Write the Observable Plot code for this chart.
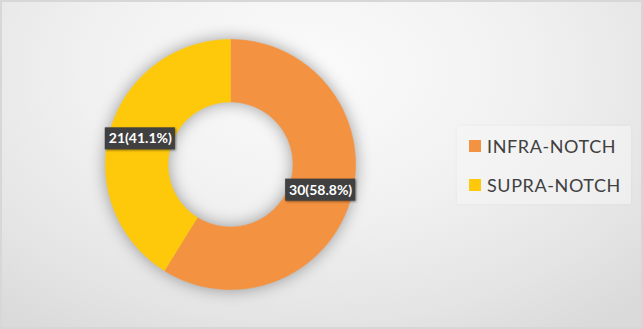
<!DOCTYPE html>
<html>
<head>
<meta charset="utf-8">
<script src="https://cdn.jsdelivr.net/npm/d3@7"></script>
<script src="https://cdn.jsdelivr.net/npm/@observablehq/plot@0.6"></script>
<style>
  html, body { margin: 0; padding: 0; }
  body { width: 643px; height: 329px; overflow: hidden; font-family: Lato, "Open Sans", sans-serif; }
  #frame {
    position: relative; width: 643px; height: 329px; box-sizing: border-box;
    background: radial-gradient(ellipse 75% 95% at 48% 22%, #fbfbfb 0%, #f1f1f1 45%, #e4e4e4 80%, #dadada 100%);
    box-shadow: inset 0 0 0 2px #d7d7d7;
  }
  #chart { position: absolute; left: 0; top: 0; }
  #legend {
    position: absolute; left: 457px; top: 126px; width: 174px; height: 78px;
    background: rgba(245,245,245,0.55); box-shadow: 0 0 3px rgba(0,0,0,0.05);
  }
  .item { position: absolute; left: 12px; height: 20px; display: flex; align-items: center; }
  .sw { width: 12px; height: 12px; margin-right: 6px; }
  .lab { font-size: 18px; color: #404040; letter-spacing: 0.6px; }
</style>
</head>
<body>
<div id="frame">
  <div id="chart"></div>
  <div id="legend"></div>
</div>
<script>
// Categories, counts and their printed labels
const categories = ["INFRA-NOTCH", "SUPRA-NOTCH"];
const counts = [30, 21];
const percentLabels = ["58.8%", "41.1%"];
const colors = ["#F39241", "#FFC90B"];

const innerRadius = 0.5;   // hole size relative to the outer radius
const outerRadius = 1;
const labelRadius = 0.75;

// Slice angles: start at 12 o'clock, go clockwise
const arcs = d3.pie().sort(null).value(d => d)(counts);

// Each slice becomes a closed polygon in data space (outer edge, then inner edge back)
const slicePoints = [];
arcs.forEach((a, i) => {
  const n = Math.max(8, Math.round((a.endAngle - a.startAngle) * 60));
  for (let k = 0; k <= n; k++) {
    const t = a.startAngle + (a.endAngle - a.startAngle) * k / n;
    slicePoints.push({category: categories[i], x: outerRadius * Math.sin(t), y: outerRadius * Math.cos(t)});
  }
  for (let k = n; k >= 0; k--) {
    const t = a.startAngle + (a.endAngle - a.startAngle) * k / n;
    slicePoints.push({category: categories[i], x: innerRadius * Math.sin(t), y: innerRadius * Math.cos(t)});
  }
});

const labelRows = arcs.map((a, i) => {
  const m = (a.startAngle + a.endAngle) / 2;
  return {category: categories[i], x: labelRadius * Math.sin(m), y: labelRadius * Math.cos(m),
          text: `${counts[i]}(${percentLabels[i]})`};
});

// Dark boxes behind the value labels
function boxedText(index, scales, values, dimensions, context, next) {
  const g = next(index, scales, values, dimensions, context);
  const ctx = document.createElement("canvas").getContext("2d");
  ctx.font = "bold 14px Lato";
  const wrap = document.createElementNS("http://www.w3.org/2000/svg", "g");
  const boxes = document.createElementNS("http://www.w3.org/2000/svg", "g");
  boxes.setAttribute("style", "filter: drop-shadow(1.5px 1.5px 1.2px rgba(0,0,0,0.45))");
  for (const i of index) {
    const w = ctx.measureText(labelRows[i].text).width + 7;
    const h = 22;
    const r = document.createElementNS("http://www.w3.org/2000/svg", "rect");
    r.setAttribute("x", values.x[i] - w / 2);
    r.setAttribute("y", values.y[i] - h / 2);
    r.setAttribute("width", w);
    r.setAttribute("height", h);
    r.setAttribute("fill", "#404040");
    boxes.appendChild(r);
  }
  wrap.appendChild(boxes);
  wrap.appendChild(g);
  return wrap;
}

function shadowed(index, scales, values, dimensions, context, next) {
  const g = next(index, scales, values, dimensions, context);
  g.setAttribute("style", "filter: drop-shadow(0 0 8px rgba(0,0,0,0.36))");
  return g;
}

const chart = Plot.plot({
  width: 643,
  height: 329,
  marginLeft: 105,
  marginRight: 288,
  marginTop: 39,
  marginBottom: 40,
  x: {domain: [-1, 1], axis: null},
  y: {domain: [-1, 1], axis: null},
  color: {domain: categories, range: colors},
  style: {background: "transparent", overflow: "visible"},
  marks: [
    Plot.line(slicePoints, {x: "x", y: "y", z: "category", fill: "category", stroke: "category",
                            strokeWidth: 0.6, curve: "linear", render: shadowed}),
    Plot.text(labelRows, {x: "x", y: "y", text: "text", fill: "white", fontSize: 14, fontWeight: "bold",
                          fontFamily: "Lato", render: boxedText})
  ]
});
document.getElementById("chart").appendChild(chart);

// Legend
const legend = document.getElementById("legend");
categories.forEach((c, i) => {
  const item = document.createElement("div");
  item.className = "item";
  item.style.top = (10 + i * 39) + "px";
  item.innerHTML = `<span class="sw" style="background:${colors[i]}"></span><span class="lab">${c}</span>`;
  legend.appendChild(item);
});
</script>
</body>
</html>
